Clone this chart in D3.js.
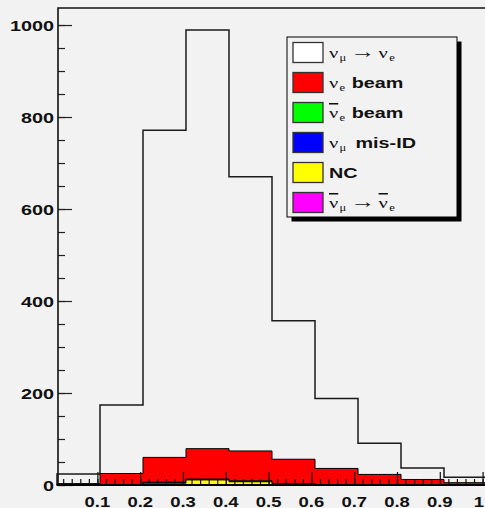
<!DOCTYPE html>
<html>
<head>
<meta charset="utf-8">
<script src="https://cdn.jsdelivr.net/npm/d3@7"></script>
<style>
  html, body { margin: 0; padding: 0; background: #f2f2f2; }
  svg { display: block; }
</style>
</head>
<body>
<svg id="chart" width="485" height="508"></svg>
<script>
// Histogram bin edges (10 bins from 0 to 1)
const binEdges = [0, 0.1, 0.2, 0.3, 0.4, 0.5, 0.6, 0.7, 0.8, 0.9, 1.0];

// Per-bin event counts of each component, listed bottom of the stack first
const antiNuMuToAntiNuE = [0, 0, 1, 1, 1, 0, 0, 0, 0, 0];
const ncEvents          = [0, 0, 3, 10, 6, 1, 0, 0, 0, 0];
const nuMuMisId         = [0, 1, 1, 1, 1, 1, 1, 0, 0, 0];
const antiNuEBeam       = [0, 0, 1, 1, 1, 1, 0, 0, 0, 0];
const nuEBeam           = [3, 24, 54, 66, 65, 53, 35, 23, 12, 5];
const nuMuToNuE         = [21, 149, 711, 910, 596, 301, 152, 68, 25, 12];

// Axis ticks
const yTickValues = [0, 200, 400, 600, 800, 1000];
const yTickLabels = ["0", "200", "400", "600", "800", "1000"];
const xTickValues = [0.1, 0.2, 0.3, 0.4, 0.5, 0.6, 0.7, 0.8, 0.9, 1.0];
const xTickLabels = ["0.1", "0.2", "0.3", "0.4", "0.5", "0.6", "0.7", "0.8", "0.9", "1"];

// Stack layers, bottom to top, with their fill colours
const layerKeys   = ["antiNuMu", "nc", "misId", "antiNuE", "nuE", "signal"];
const layerSeries = [antiNuMuToAntiNuE, ncEvents, nuMuMisId, antiNuEBeam, nuEBeam, nuMuToNuE];
const layerFills  = ["#ff00ff", "#ffff00", "#0000ff", "#00ff00", "#ff0000", "none"];

// Legend rows (top to bottom): swatch colour and label pieces
const legendEntries = [
  { fill: "#ffffff", parts: [{ nu: "ν" }, { sub: "μ" }, { arrow: "→" }, { nu: "ν", gap: 2.5 }, { sub: "e" }] },
  { fill: "#ff0000", parts: [{ nu: "ν" }, { sub: "e" }, { bold: "beam", gap: 5 }] },
  { fill: "#00ff00", parts: [{ nu: "ν", bar: true }, { sub: "e" }, { bold: "beam", gap: 5 }] },
  { fill: "#0000ff", parts: [{ nu: "ν" }, { sub: "μ" }, { bold: "mis-ID", gap: 7 }] },
  { fill: "#ffff00", parts: [{ bold: "NC" }] },
  { fill: "#ff00ff", parts: [{ nu: "ν", bar: true }, { sub: "μ" }, { arrow: "→" }, { nu: "ν", bar: true, gap: 2.5 }, { sub: "e" }] }
];

// Frame of the plotting area
const W = 485, H = 508;
const frame = { left: 58, top: 8, bottom: 485, right: 487 };
const textStretch = 1.32;
const boldFont = "'Liberation Sans', Arial, Helvetica, sans-serif";
const greekFont = "'Liberation Serif', 'Times New Roman', serif";

const svg = d3.select("#chart");
svg.append("rect").attr("width", W).attr("height", H).attr("fill", "#f2f2f2");

// Scales: bins and tick marks
const xBins = d3.scaleLinear().domain([0, 1]).range([57, 487]);
const xTicks = d3.scaleLinear().domain([0, 1]).range([54.6, 482.6]);
const y = d3.scaleLinear().domain([0, 1037]).range([frame.bottom, frame.top]);

// Stack the components
const rows = binEdges.slice(0, -1).map((e, i) => {
  const r = { x0: e };
  layerKeys.forEach((k, j) => { r[k] = layerSeries[j][i]; });
  return r;
});
const stacked = d3.stack().keys(layerKeys)(rows);

// Step outline of a cumulative histogram, closed to the baseline
const stepArea = d3.area()
  .curve(d3.curveStepAfter)
  .x(d => xBins(d.x))
  .y0(y(0))
  .y1(d => y(d.v));

function stepPoints(layer) {
  const pts = layer.map((d, i) => ({ x: binEdges[i], v: d[1] }));
  pts.push({ x: binEdges[binEdges.length - 1], v: layer[layer.length - 1][1] });
  return pts;
}

// Draw the cumulative histograms from the top of the stack down
const histG = svg.append("g");
for (let j = stacked.length - 1; j >= 0; j--) {
  const isTop = j === stacked.length - 1;
  histG.append("path")
    .attr("d", stepArea(stepPoints(stacked[j])))
    .attr("fill", layerFills[j])
    .attr("stroke", isTop ? "#1a1a1a" : "#000")
    .attr("stroke-width", isTop ? 1.5 : 1)
    .attr("stroke-linejoin", "miter");
}

// Y axis: major and minor ticks pointing into the plot
const yAxisG = svg.append("g").attr("transform", `translate(${frame.left},0)`);
yAxisG.append("g").call(
  d3.axisRight(y).tickValues(d3.range(0, 1001, 50)).tickSize(7).tickSizeOuter(0).tickFormat("")
);
yAxisG.append("g").call(
  d3.axisRight(y).tickValues(yTickValues).tickSize(14).tickSizeOuter(0).tickFormat("")
);
yAxisG.selectAll(".tick line").attr("stroke", "#222").attr("stroke-width", 1.2);
yAxisG.selectAll(".domain").remove();

// X axis: ticks pointing up into the plot
const xAxisG = svg.append("g").attr("transform", `translate(0,${frame.bottom})`);
xAxisG.append("g").call(
  d3.axisTop(xTicks).tickValues(d3.range(0, 1.0001, 0.02)).tickSize(6).tickSizeOuter(0).tickFormat("")
);
xAxisG.append("g").call(
  d3.axisTop(xTicks).tickValues(xTickValues).tickSize(13).tickSizeOuter(0).tickFormat("")
);
xAxisG.selectAll(".tick line").attr("stroke", "#111").attr("stroke-width", 1.2);
xAxisG.selectAll(".domain").remove();
xAxisG.selectAll(".tick").filter(d => xTicks(d) < frame.left + 1).remove();

// Frame lines
svg.append("path")
  .attr("d", `M${frame.left},${frame.bottom}V${frame.top}H${W}`)
  .attr("fill", "none").attr("stroke", "#111").attr("stroke-width", 1.6);
svg.append("path")
  .attr("d", `M${frame.left},${frame.bottom}H${W}`)
  .attr("fill", "none").attr("stroke", "#000").attr("stroke-width", 2);

// Tick labels (bold, slightly wide)
svg.append("g").selectAll("text")
  .data(yTickValues)
  .join("text")
  .attr("transform", d => `translate(54,${y(d) + 5.5}) scale(${textStretch},1)`)
  .attr("text-anchor", "end")
  .attr("font-family", boldFont).attr("font-weight", "bold").attr("font-size", 15)
  .attr("fill", "#111")
  .text((d, i) => yTickLabels[i]);

// x labels; the last one is kept inside the right edge of the page
svg.append("g").selectAll("text")
  .data(xTickValues)
  .join("text")
  .attr("transform", d => {
    const px = Math.min(xTicks(d), W - 6);
    return `translate(${px},506.5) scale(${textStretch},1)`;
  })
  .attr("text-anchor", "middle")
  .attr("font-family", boldFont).attr("font-weight", "bold").attr("font-size", 14)
  .attr("fill", "#111")
  .text((d, i) => xTickLabels[i]);

// Legend box with drop shadow
const legend = { x: 287, y: 37, w: 170, h: 180, row: 30, shadow: 4.5 };
const legG = svg.append("g");
legG.append("rect")
  .attr("x", legend.x + legend.shadow).attr("y", legend.y + legend.shadow)
  .attr("width", legend.w).attr("height", legend.h).attr("fill", "#000");
legG.append("rect")
  .attr("x", legend.x).attr("y", legend.y)
  .attr("width", legend.w).attr("height", legend.h)
  .attr("fill", "#f2f2f2").attr("stroke", "#000").attr("stroke-width", 1);

legendEntries.forEach((entry, i) => {
  const cy = legend.y + 15.5 + i * legend.row;
  legG.append("rect")
    .attr("x", legend.x + 6).attr("y", cy - 10)
    .attr("width", 30).attr("height", 20)
    .attr("fill", entry.fill).attr("stroke", "#333").attr("stroke-width", 1.3);

  const t = legG.append("text")
    .attr("transform", `translate(${legend.x + 42},${cy + 5}) scale(${textStretch},1)`)
    .attr("fill", "#111");
  let shift = 0;
  entry.parts.forEach(p => {
    const s = t.append("tspan");
    let target = 0;
    if (p.nu) {
      s.text(p.nu).attr("font-family", greekFont).attr("font-size", 15.5);
      if (p.bar) s.style("text-decoration", "overline");
    } else if (p.sub) {
      s.text(p.sub).attr("font-family", greekFont).attr("font-size", 9.5).attr("dx", 1);
      target = 3.5;
    } else if (p.arrow) {
      s.text(p.arrow).attr("font-family", boldFont).attr("font-size", 19).attr("dx", 3);
      target = 0;
    } else if (p.bold) {
      s.text(p.bold).attr("font-family", boldFont).attr("font-weight", "bold").attr("font-size", 15);
    }
    if (p.gap) s.attr("dx", p.gap);
    if (target !== shift) { s.attr("dy", target - shift); shift = target; }
  });
});
</script>
</body>
</html>
